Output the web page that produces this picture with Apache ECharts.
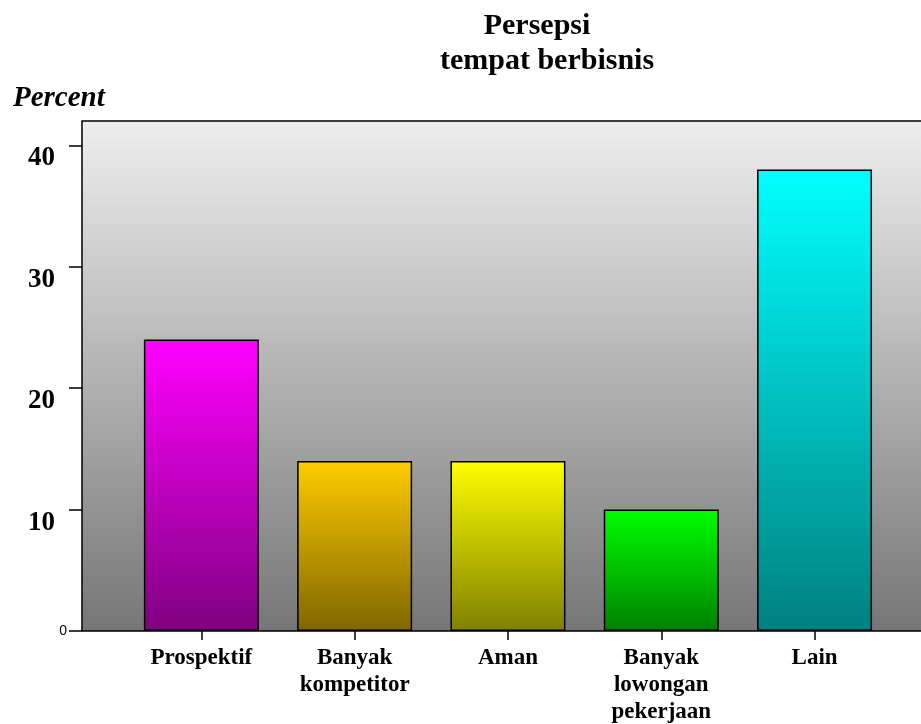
<!DOCTYPE html>
<html>
<head>
<meta charset="utf-8">
<script src="https://cdn.jsdelivr.net/npm/echarts@6/dist/echarts.min.js"></script>
<style>
  html, body { margin: 0; padding: 0; background: #ffffff; }
  #chart { width: 921px; height: 724px; }
</style>
</head>
<body>
<div id="chart"></div>
<script>
// Persepsi tempat berbisnis: share of respondents per answer (percent)
const categories = ['Prospektif', 'Banyak\nkompetitor', 'Aman', 'Banyak\nlowongan\npekerjaan', 'Lain'];
const percentValues = [24, 14, 14, 10, 38];
const yTickValues = [0, 10, 20, 30, 40];

// Bar fill: bright tone at the top fading to a dark tone at the base
const topColors = ['#ff00ff', '#ffcc00', '#ffff00', '#00ff00', '#00ffff'];
const baseColors = ['#800080', '#806600', '#808000', '#008000', '#008080'];

const serif = '"Liberation Serif", "Times New Roman", serif';
const yMax = 42;

const chart = echarts.init(document.getElementById('chart'), null, { renderer: 'canvas' });

const barData = percentValues.map((v, i) => ({
  value: v,
  itemStyle: {
    color: new echarts.graphic.LinearGradient(0, 0, 0, 1, [
      { offset: 0, color: topColors[i] },
      { offset: 1, color: baseColors[i] }
    ])
  }
}));

chart.setOption({
  animation: false,
  backgroundColor: '#ffffff',
  title: [
    {
      text: 'Persepsi',
      left: 532, top: 4, textAlign: 'center',
      textStyle: { fontFamily: serif, fontWeight: 'bold', fontSize: 30, lineHeight: 35, color: '#000' }
    },
    {
      text: 'tempat berbisnis',
      left: 542, top: 39, textAlign: 'center',
      textStyle: { fontFamily: serif, fontWeight: 'bold', fontSize: 30, lineHeight: 35, color: '#000' }
    },
    {
      text: 'Percent',
      left: 8, top: 79,
      textStyle: { fontFamily: serif, fontWeight: 'bold', fontStyle: 'italic', fontSize: 29, lineHeight: 30, color: '#000' }
    }
  ],
  grid: [
    {
      // framed plot area with the grey gradient
      left: 82, right: -10, top: 121, bottom: 93,
      outerBoundsMode: 'none',
      show: true,
      borderColor: '#000', borderWidth: 1.5,
      backgroundColor: new echarts.graphic.LinearGradient(0, 0, 0, 1, [
        { offset: 0, color: '#eeeeee' },
        { offset: 1, color: '#767676' }
      ])
    },
    {
      // category band for the bars
      left: 124.7, right: 29.8, top: 121, bottom: 93,
      outerBoundsMode: 'none'
    }
  ],
  xAxis: [
    {
      gridIndex: 0, type: 'value', min: 0, max: 1,
      axisLine: { show: false }, axisTick: { show: false },
      axisLabel: { show: false }, splitLine: { show: false }
    },
    {
      gridIndex: 1, type: 'category', data: categories,
      axisLine: { show: false },
      axisTick: { show: true, alignWithLabel: true, length: 9, lineStyle: { color: '#000', width: 1.5 } },
      axisLabel: {
        margin: 14, interval: 0,
        fontFamily: serif, fontWeight: 'bold', fontSize: 23, lineHeight: 27, color: '#000'
      }
    }
  ],
  yAxis: [
    {
      gridIndex: 0, type: 'value', min: 0, max: yMax, interval: 10,
      axisLine: { show: false },
      axisTick: { show: true, length: 13, customValues: yTickValues, lineStyle: { color: '#000', width: 1.5 } },
      splitLine: { show: false },
      axisLabel: {
        margin: 15,
        customValues: yTickValues,
        formatter: v => (v === 0 ? '{z|0}' : '{n|' + v + '}'),
        rich: {
          z: { fontFamily: '"Liberation Sans", Arial, sans-serif', fontSize: 14, color: '#000' },
          n: { fontFamily: serif, fontWeight: 'bold', fontSize: 27, color: '#000', padding: [26, 12, 0, 0] }
        }
      }
    },
    {
      gridIndex: 1, type: 'value', min: 0, max: yMax,
      show: false, splitLine: { show: false }
    }
  ],
  series: [
    {
      type: 'bar',
      xAxisIndex: 1, yAxisIndex: 1,
      data: barData,
      barWidth: '75%',
      itemStyle: { borderColor: '#000', borderWidth: 1.5 }
    }
  ]
});
</script>
</body>
</html>
